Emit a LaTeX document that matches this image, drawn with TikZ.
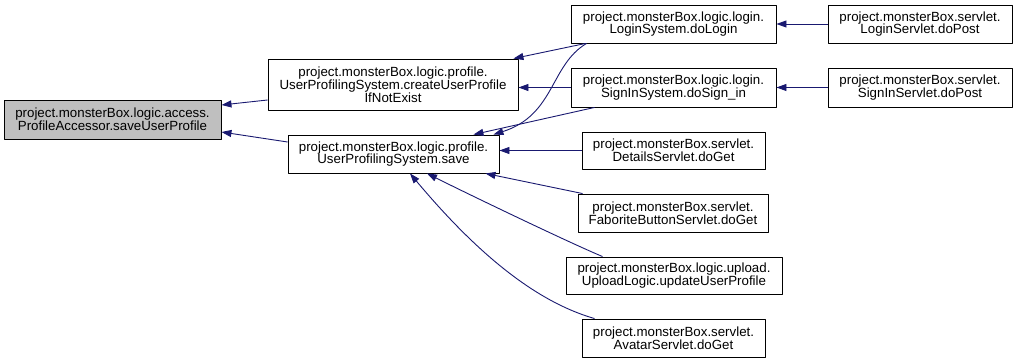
\documentclass[tikz,border=0pt]{standalone}
\usepackage{fontspec}
\setmainfont{Liberation Sans}
\usetikzlibrary{arrows.meta}
\definecolor{edgeblue}{HTML}{191970}
\definecolor{rootgray}{HTML}{BFBFBF}
\begin{document}
\begin{tikzpicture}[x=1pt, y=-1pt, line join=round,
		font=\fontsize{13.3}{12.8}\selectfont,
		>={Triangle[length=10pt,width=7pt]},
		box/.style={draw, line width=0.9pt, align=center, inner sep=0pt},
		call/.style={->, edgeblue, line width=0.9pt}]
	\useasboundingbox (0,0) rectangle (1017,363);
	% functions
	\node[box, fill=rootgray, minimum width=217pt, minimum height=39pt] (root) at (112.5,119.5)
		{project.monsterBox.logic.access.\\ProfileAccessor.saveUserProfile};
	\node[box, minimum width=250pt, minimum height=51pt] (inexist) at (393,84.5)
		{project.monsterBox.logic.profile.\\UserProfilingSystem.createUserProfile\\IfNotExist};
	\node[box, minimum width=211pt, minimum height=38pt] (save) at (393.5,154)
		{project.monsterBox.logic.profile.\\UserProfilingSystem.save};
	\node[box, minimum width=205pt, minimum height=38pt] (dologin) at (673.5,24)
		{project.monsterBox.logic.login.\\LoginSystem.doLogin};
	\node[box, minimum width=205pt, minimum height=39pt] (dosignin) at (673.5,87.5)
		{project.monsterBox.logic.login.\\SignInSystem.doSign\_in};
	\node[box, minimum width=184pt, minimum height=38pt] (loginservlet) at (920,24)
		{project.monsterBox.servlet.\\LoginServlet.doPost};
	\node[box, minimum width=184pt, minimum height=39pt] (signinservlet) at (920,87.5)
		{project.monsterBox.servlet.\\SignInServlet.doPost};
	\node[box, minimum width=183pt, minimum height=37pt] (details) at (673.5,150.5)
		{project.monsterBox.servlet.\\DetailsServlet.doGet};
	\node[box, minimum width=190pt, minimum height=38pt] (faborite) at (673,213)
		{project.monsterBox.servlet.\\FaboriteButtonServlet.doGet};
	\node[box, minimum width=216pt, minimum height=37pt] (upload) at (674,275.5)
		{project.monsterBox.logic.upload.\\UploadLogic.updateUserProfile};
	\node[box, minimum width=183pt, minimum height=38pt] (avatar) at (673.5,338)
		{project.monsterBox.servlet.\\AvatarServlet.doGet};
	% calls
	\draw[call] ([yshift=-15.5pt]inexist.west) -- ([yshift=14.5pt]root.east);
	\draw[call] ([yshift=12pt]save.west) -- ([yshift=-12.5pt]root.east);
	\draw[call] ([xshift=15pt]dologin.south west) -- ([xshift=-5pt]inexist.north east);
	\draw[call] ([xshift=16pt]dologin.south west) .. controls (550,65) and (555,115) .. ([xshift=-6pt]save.north east);
	\draw[call] (dosignin.west) -- (dosignin.west -| inexist.east);
	\draw[call] ([xshift=24pt]dosignin.south west) -- ([xshift=-26pt]save.north east);
	\draw[call] (loginservlet.west) -- (dologin.east);
	\draw[call] (signinservlet.west) -- (dosignin.east);
	\draw[call] (details.west) -- (details.west -| save.east);
	\draw[call] ([xshift=5pt]faborite.north west) -- ([xshift=-14pt]save.south east);
	\draw[call] ([xshift=37pt]upload.north west) .. controls (570,243) and (470,195) .. ([xshift=33.5pt]save.south);
	\draw[call] ([xshift=13pt]avatar.north west) .. controls (530,300) and (470,245) .. ([xshift=16.5pt]save.south);
\end{tikzpicture}
\end{document}
